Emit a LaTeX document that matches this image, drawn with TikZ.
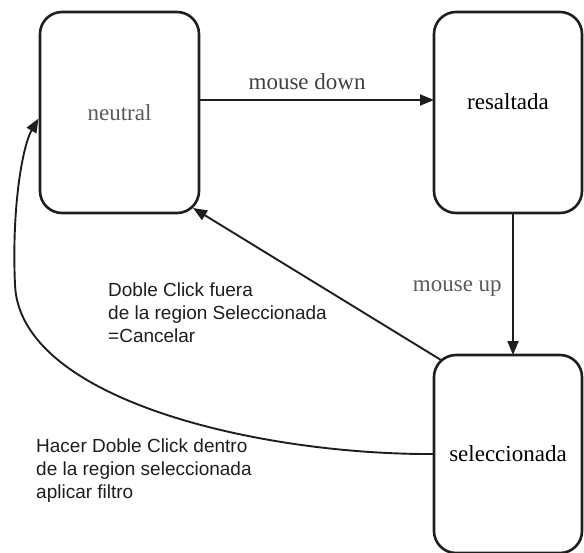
\documentclass[tikz,border=0pt]{standalone}
\usepackage{fontspec}
\setmainfont{Liberation Serif}
\setsansfont{Liberation Sans}
\usetikzlibrary{arrows.meta,positioning}
\definecolor{ink}{HTML}{1E1E1E}
\definecolor{dim}{HTML}{5A5A5A}

\begin{document}
\begin{tikzpicture}[x=1pt,y=1pt,>={Triangle[length=14pt,width=11pt]},
    estado/.style={draw=ink,line width=2.6pt,rounded corners=22pt,outer sep=0pt,
      minimum height=201pt,font=\fontsize{23}{27}\selectfont},
    flecha/.style={ink,line width=1.9pt,->},
    evento/.style={font=\fontsize{23}{27}\selectfont,text=dim},
    nota/.style={font=\sffamily\fontsize{19}{22.6}\selectfont,text=ink,
      align=left,inner sep=0pt,anchor=north west}]
  \useasboundingbox (0,0) rectangle (584,-552);
  \node[estado,minimum width=159pt,text=dim] (neutral) at (119.5,-112.5) {neutral};
  \node[estado,minimum width=148pt,right=235pt of neutral,text depth=22pt] (resaltada)
    {resaltada};
  \node[estado,minimum width=148pt,minimum height=198pt,below=142pt of resaltada]
    (seleccionada) {seleccionada};
  \draw[flecha] ([yshift=12.5pt]neutral.east) --
    node[evento,text=ink!85,above=5.7pt,pos=0.46] (abajo) {mouse down}
    ([yshift=12.5pt]resaltada.west);
  \draw[flecha] ([xshift=5pt]resaltada.south) --
    node[evento,left=7pt,pos=0.53] (arriba) {mouse up}
    ([xshift=5pt]seleccionada.north);
  \draw[flecha] ([shift={(7pt,-5pt)}]seleccionada.north west) --
    ([shift={(-6pt,5pt)}]neutral.south east);
  \draw[flecha] (seleccionada.west) .. controls (260,-455) and (20,-400) .. (15,-285)
    .. controls (11.5,-205) and (23,-145) .. ([shift={(-1.5pt,-6pt)}]neutral.west);
  \node[nota] (cancelar) at (108,-283)
    {Doble Click fuera\\de la region Seleccionada\\=Cancelar};
  \node[nota] (filtro) at (36,-439)
    {Hacer Doble Click dentro\\de la region seleccionada\\aplicar filtro};
\end{tikzpicture}
\end{document}
